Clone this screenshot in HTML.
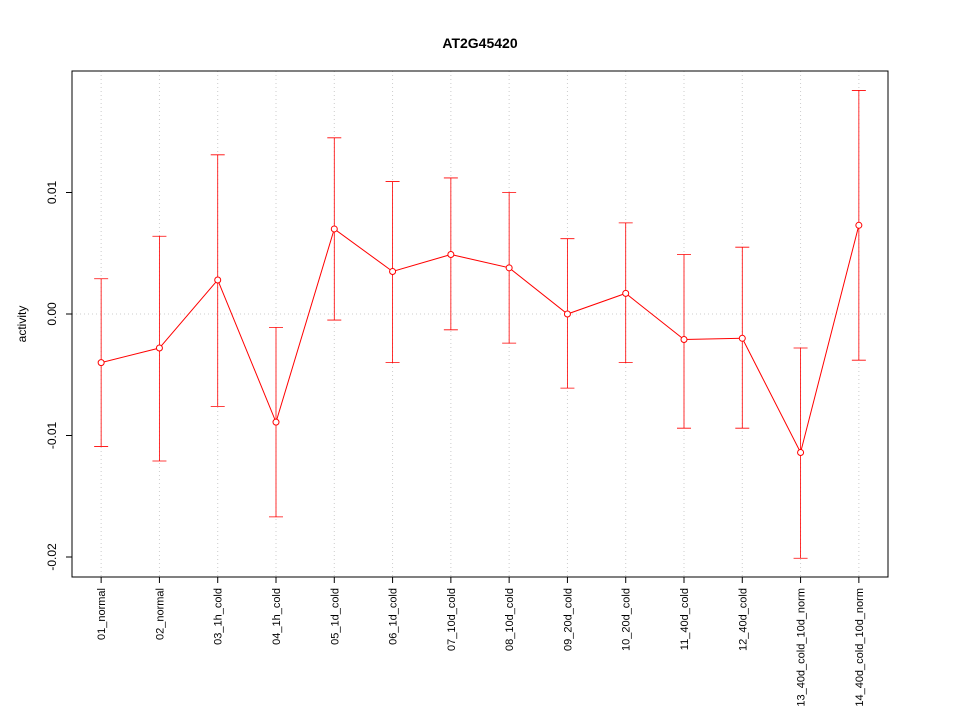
<!DOCTYPE html>
<html><head><meta charset="utf-8"><style>
body{margin:0;background:#fff}
svg text{font-family:"Liberation Sans",sans-serif}
</style></head><body>
<svg id="chart" width="960" height="720" xmlns="http://www.w3.org/2000/svg">
<text x="480" y="48" text-anchor="middle" font-size="14" font-weight="bold">AT2G45420</text>
<text transform="translate(26,324) rotate(-90)" text-anchor="middle" font-size="12">activity</text>
<g id="grid"></g>
<g id="axes"></g>
<g id="series"></g>
<rect x="72" y="71" width="816" height="506" fill="none" stroke="#000"/>
</svg>
<script>
const categories=["01_normal","02_normal","03_1h_cold","04_1h_cold","05_1d_cold","06_1d_cold","07_10d_cold","08_10d_cold","09_20d_cold","10_20d_cold","11_40d_cold","12_40d_cold","13_40d_cold_10d_norm","14_40d_cold_10d_norm"];
const means=[-0.0040,-0.0028,0.0028,-0.0089,0.0070,0.0035,0.0049,0.0038,0.0000,0.0017,-0.0021,-0.0020,-0.0114,0.0073];
const upper=[0.0029,0.0064,0.0131,-0.0011,0.0145,0.0109,0.0112,0.0100,0.0062,0.0075,0.0049,0.0055,-0.0028,0.0184];
const lower=[-0.0109,-0.0121,-0.0076,-0.0167,-0.0005,-0.0040,-0.0013,-0.0024,-0.0061,-0.0040,-0.0094,-0.0094,-0.0201,-0.0038];
const yTicks=[-0.02,-0.01,0.00,0.01];
const yTickLabels=["-0.02","-0.01","0.00","0.01"];
const NS="http://www.w3.org/2000/svg";
const L=72,R=888,T=71,B=577;
function xs(i){return L+(i+0.5)*(R-L)/categories.length;}
function ys(v){return 314-v*12150;}
function mk(tag,attrs,parent){const e=document.createElementNS(NS,tag);for(const k in attrs)e.setAttribute(k,attrs[k]);parent.appendChild(e);return e;}
const grid=document.getElementById('grid'),axes=document.getElementById('axes'),ser=document.getElementById('series');
categories.forEach((c,i)=>{
  const g=mk('line',{x1:xs(i),x2:xs(i),y1:T,y2:B,stroke:'#ccc','stroke-dasharray':'1,3'},grid);
  
  
  const t=mk('line',{x1:xs(i),x2:xs(i),y1:B,y2:B+6,stroke:'#000'},axes);
  
  
  const lb=mk('text',{transform:`translate(${xs(i)+4},588) rotate(-90)`,'text-anchor':'end','font-size':'11'},axes);
  lb.textContent=c;
  
  
});
const zg=mk('line',{x1:L,x2:R,y1:ys(0),y2:ys(0),stroke:'#ccc','stroke-dasharray':'1,3'},grid);


yTicks.forEach((v,i)=>{
  const t=mk('line',{x1:L-6,x2:L,y1:ys(v),y2:ys(v),stroke:'#000'},axes);
  
  
  const lb=mk('text',{transform:`translate(56,${ys(v)}) rotate(-90)`,'text-anchor':'middle','font-size':'12'},axes);
  lb.textContent=yTickLabels[i];
  
  
});
const line=mk('polyline',{points:means.map((m,i)=>xs(i)+','+ys(m)).join(' '),fill:'none',stroke:'#f00'},ser);


means.forEach((m,i)=>{
  const x=xs(i);
  const eb=mk('path',{d:`M${x},${ys(upper[i])}V${ys(lower[i])}M${x-7},${ys(upper[i])}H${x+7}M${x-7},${ys(lower[i])}H${x+7}`,stroke:'#f00',fill:'none','stroke-width':'0.8'},ser);
  
  
  const p=mk('circle',{cx:x,cy:ys(m),r:3,fill:'#fff',stroke:'#f00'},ser);
  
  
});
</script>
</body></html>
